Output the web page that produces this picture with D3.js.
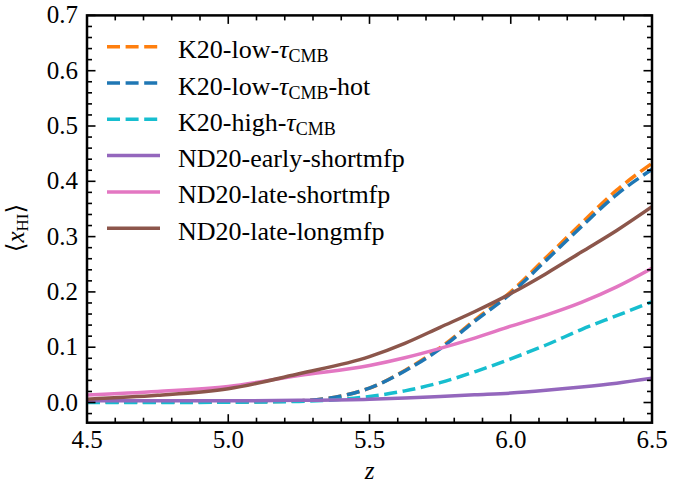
<!DOCTYPE html>
<html>
<head>
<meta charset="utf-8">
<script src="https://cdn.jsdelivr.net/npm/d3@7"></script>
<style>
  body { margin: 0; background: #fff; }
  svg text { fill: #000; }
</style>
</head>
<body>
<div id="chart"></div>
<script>
// redshift grid
const zGrid = [4.5, 4.75, 5.0, 5.25, 5.5, 5.625, 5.75, 5.875, 6.0, 6.125, 6.25, 6.375, 6.5];

// neutral fraction per model
const k20Low      = [0.001, 0.001, 0.001, 0.003, 0.026, 0.058, 0.099, 0.150, 0.200, 0.262, 0.324, 0.384, 0.4325];
const k20LowHot   = [0.001, 0.001, 0.001, 0.003, 0.026, 0.057, 0.097, 0.148, 0.197, 0.257, 0.318, 0.376, 0.4217];
const k20High     = [0.000, 0.000, 0.0005, 0.002, 0.011, 0.021, 0.036, 0.056, 0.079, 0.104, 0.132, 0.157, 0.182];
const ndEarly     = [0.003, 0.003, 0.003, 0.004, 0.006, 0.008, 0.011, 0.014, 0.017, 0.022, 0.028, 0.035, 0.0437];
const ndLateShort = [0.0136, 0.020, 0.029, 0.049, 0.067, 0.081, 0.098, 0.117, 0.138, 0.158, 0.181, 0.209, 0.2427];
const ndLateLong  = [0.006, 0.013, 0.025, 0.052, 0.083, 0.107, 0.136, 0.165, 0.197, 0.233, 0.272, 0.311, 0.354];

const seriesNames = ["K20-low", "K20-low-hot", "K20-high", "ND20-early-shortmfp", "ND20-late-shortmfp", "ND20-late-longmfp"];
const seriesValues = [k20Low, k20LowHot, k20High, ndEarly, ndLateShort, ndLateLong];
const seriesColors = ["#ff7f0e", "#1f77b4", "#17becf", "#9467bd", "#e377c2", "#8c564b"];
const seriesDashed = [true, true, true, false, false, false];

const xTicks = [4.5, 5.0, 5.5, 6.0, 6.5];
const yTicks = [0.0, 0.1, 0.2, 0.3, 0.4, 0.5, 0.6, 0.7];

const width = 694, height = 483;
const mLeft = 87, mRight = 652, mTop = 15.4, mBottom = 422.7;
const serif = "'Liberation Serif', 'Times New Roman', 'DejaVu Serif', 'Noto Serif', serif";

const svg = d3.select("#chart").append("svg")
    .attr("width", width)
    .attr("height", height)
    .attr("font-family", serif);

const x = d3.scaleLinear().domain([4.5, 6.5]).range([mLeft, mRight]);
const y = d3.scaleLinear().domain([-0.0365, 0.7]).range([mBottom, mTop]);

// clip for lines
svg.append("clipPath").attr("id", "clip")
    .append("rect")
    .attr("x", mLeft).attr("y", mTop)
    .attr("width", mRight - mLeft).attr("height", mBottom - mTop);

const line = d3.line()
    .x(d => x(d[0]))
    .y(d => y(d[1]))
    .curve(d3.curveMonotoneX);

const plot = svg.append("g").attr("clip-path", "url(#clip)");

seriesValues.forEach((vals, i) => {
    plot.append("path")
        .datum(zGrid.map((z, j) => [z, vals[j]]))
        .attr("d", line)
        .attr("fill", "none")
        .attr("stroke", seriesColors[i])
        .attr("stroke-width", 3.5)
        .attr("stroke-dasharray", seriesDashed[i] ? "13,5.6" : null);
});

// ticks, inward on all sides
const minorX = d3.range(4.5, 6.5001, 0.1);
const minorY = d3.range(-0.02, 0.7001, 0.02);
const major = 8.5, minor = 5;
const tickG = svg.append("g").attr("stroke", "#000").attr("stroke-width", 1.6);

minorX.forEach(v => {
    const isMajor = xTicks.some(t => Math.abs(t - v) < 1e-6);
    const len = isMajor ? major : minor;
    tickG.append("line").attr("x1", x(v)).attr("x2", x(v)).attr("y1", mBottom).attr("y2", mBottom - len);
    tickG.append("line").attr("x1", x(v)).attr("x2", x(v)).attr("y1", mTop).attr("y2", mTop + len);
});
minorY.forEach(v => {
    const isMajor = yTicks.some(t => Math.abs(t - v) < 1e-6);
    const len = isMajor ? major : minor;
    tickG.append("line").attr("y1", y(v)).attr("y2", y(v)).attr("x1", mLeft).attr("x2", mLeft + len);
    tickG.append("line").attr("y1", y(v)).attr("y2", y(v)).attr("x1", mRight).attr("x2", mRight - len);
});

// frame
svg.append("rect")
    .attr("x", mLeft).attr("y", mTop)
    .attr("width", mRight - mLeft).attr("height", mBottom - mTop)
    .attr("fill", "none")
    .attr("stroke", "#000")
    .attr("stroke-width", 2.5);

// tick labels
svg.append("g").selectAll("text")
    .data(xTicks)
    .join("text")
    .attr("x", d => x(d))
    .attr("y", 448)
    .attr("text-anchor", "middle")
    .attr("font-size", 25)
    .text(d => d.toFixed(1));

svg.append("g").selectAll("text")
    .data(yTicks)
    .join("text")
    .attr("x", 78)
    .attr("y", d => y(d) + 8)
    .attr("text-anchor", "end")
    .attr("font-size", 25)
    .text(d => d.toFixed(1));

// axis labels
svg.append("text")
    .attr("x", x(5.5))
    .attr("y", 479)
    .attr("text-anchor", "middle")
    .attr("font-size", 25)
    .attr("font-style", "italic")
    .text("z");

const yLab = svg.append("text")
    .attr("transform", "translate(24,228) rotate(-90)")
    .attr("text-anchor", "middle")
    .attr("font-size", 25);
yLab.append("tspan").text("\u27E8");
yLab.append("tspan").attr("font-style", "italic").text("x");
yLab.append("tspan").attr("font-size", 17).attr("dy", 4).text("HI");
yLab.append("tspan").attr("dy", -4).text("\u27E9");

// legend
const legendLabels = [
    ["K20-low-", "τ", "CMB", ""],
    ["K20-low-", "τ", "CMB", "-hot"],
    ["K20-high-", "τ", "CMB", ""],
    ["ND20-early-shortmfp"],
    ["ND20-late-shortmfp"],
    ["ND20-late-longmfp"]
];
const legend = svg.append("g");
legendLabels.forEach((parts, i) => {
    const ry = 46.7 + i * 36.3;
    legend.append("line")
        .attr("x1", 107).attr("x2", 160)
        .attr("y1", ry).attr("y2", ry)
        .attr("stroke", seriesColors[i])
        .attr("stroke-width", 3.5)
        .attr("stroke-dasharray", seriesDashed[i] ? "13,5.6" : null);
    const t = legend.append("text")
        .attr("x", 178)
        .attr("y", ry + 11.5)
        .attr("font-size", 26);
    t.append("tspan").text(parts[0]);
    if (parts.length > 1) {
        t.append("tspan").attr("font-style", "italic").text(parts[1]);
        t.append("tspan").attr("font-size", 18).attr("dy", 4).text(parts[2]);
        if (parts[3]) t.append("tspan").attr("dy", -4).text(parts[3]);
    }
});
</script>
</body>
</html>
